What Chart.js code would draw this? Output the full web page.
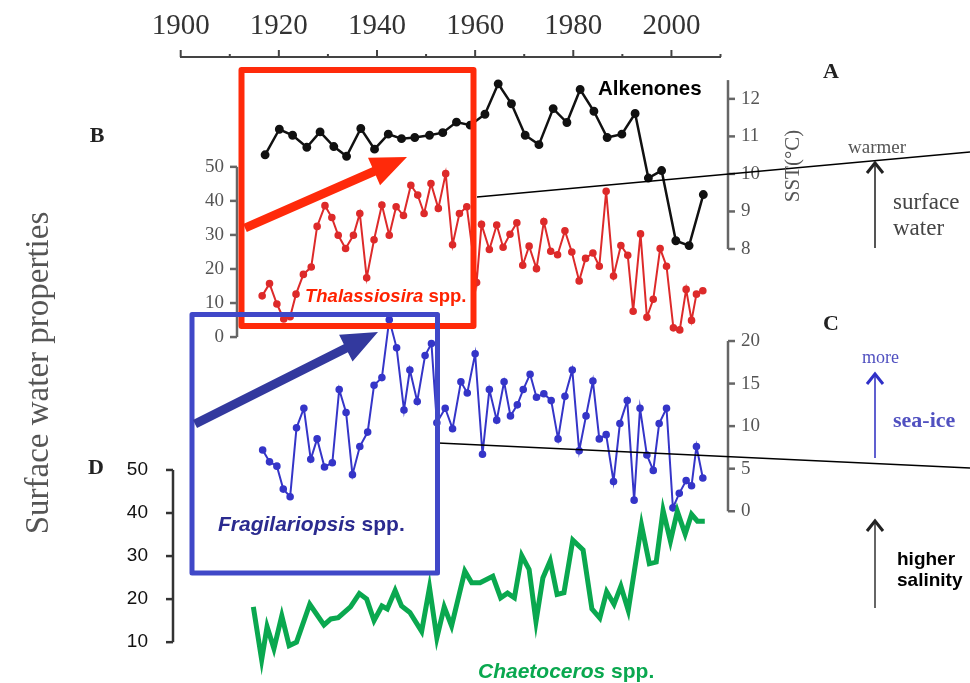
<!DOCTYPE html>
<html>
<head>
<meta charset="utf-8">
<script src="https://cdn.jsdelivr.net/npm/chart.js@4"></script>
<style>
  body { margin: 0; background: #fff; }
  canvas { display: block; }
</style>
</head>
<body>
<canvas id="chart" width="970" height="683"></canvas>
<script>
// values (year, value)
const alkYears = [1917.2, 1920.1, 1922.8, 1925.7, 1928.4, 1931.2, 1933.8, 1936.7, 1939.5, 1942.3, 1945.0, 1947.7, 1950.7, 1953.4, 1956.2, 1959.0, 1962.0, 1964.7, 1967.4, 1970.2, 1973.0, 1975.9, 1978.7, 1981.4, 1984.2, 1986.9, 1989.9, 1992.6, 1995.3, 1998.0, 2000.9, 2003.6, 2006.5];
const alkSST = [10.51, 11.19, 11.03, 10.71, 11.12, 10.73, 10.47, 11.21, 10.66, 11.06, 10.94, 10.97, 11.03, 11.10, 11.38, 11.30, 11.59, 12.40, 11.87, 11.03, 10.78, 11.74, 11.37, 12.25, 11.67, 10.97, 11.06, 11.61, 9.89, 10.09, 8.22, 8.09, 9.45];

const thalYears = [1916.6, 1918.1, 1919.6, 1921.0, 1922.3, 1923.5, 1925.0, 1926.6, 1927.8, 1929.4, 1930.8, 1932.1, 1933.6, 1935.2, 1936.5, 1937.9, 1939.4, 1941.0, 1942.5, 1943.9, 1945.4, 1946.9, 1948.3, 1949.6, 1951.0, 1952.5, 1954.0, 1955.4, 1956.8, 1958.3, 1960.3, 1961.3, 1962.9, 1964.4, 1965.7, 1967.1, 1968.5, 1969.7, 1971.0, 1972.5, 1974.0, 1975.4, 1976.8, 1978.3, 1979.7, 1981.2, 1982.5, 1984.0, 1985.3, 1986.7, 1988.2, 1989.7, 1991.1, 1992.2, 1993.7, 1995.0, 1996.3, 1997.7, 1999.0, 2000.4, 2001.7, 2003.0, 2004.1, 2005.1, 2006.4];
const thalPct = [12.1, 15.7, 9.7, 5.3, 6.0, 12.6, 18.4, 20.6, 32.5, 38.6, 35.1, 29.9, 26.0, 29.9, 36.3, 17.4, 28.6, 38.8, 29.9, 38.3, 35.7, 44.6, 41.7, 36.3, 45.1, 37.8, 48.0, 27.1, 36.3, 38.3, 16.0, 33.1, 25.7, 32.9, 26.4, 30.2, 33.6, 21.1, 26.7, 20.1, 33.9, 25.2, 24.2, 31.2, 25.0, 16.5, 23.1, 24.7, 20.8, 42.8, 17.9, 26.9, 24.0, 7.6, 30.3, 5.8, 11.1, 26.0, 20.8, 2.7, 2.1, 14.0, 4.9, 12.6, 13.6];

const fragYears = [1916.7, 1918.1, 1919.6, 1920.9, 1922.3, 1923.6, 1925.1, 1926.5, 1927.8, 1929.3, 1930.9, 1932.3, 1933.7, 1935.0, 1936.5, 1938.1, 1939.4, 1941.0, 1942.5, 1944.0, 1945.5, 1946.7, 1948.2, 1949.8, 1951.1, 1952.2, 1953.9, 1955.4, 1957.1, 1958.4, 1960.0, 1961.5, 1962.9, 1964.4, 1965.9, 1967.2, 1968.6, 1969.8, 1971.2, 1972.5, 1974.0, 1975.5, 1976.9, 1978.3, 1979.8, 1981.2, 1982.6, 1984.0, 1985.3, 1986.7, 1988.2, 1989.5, 1991.0, 1992.4, 1993.6, 1995.0, 1996.3, 1997.5, 1999.0, 2000.3, 2001.6, 2003.0, 2004.1, 2005.1, 2006.4];
const fragPct = [7.2, 5.8, 5.3, 2.6, 1.7, 9.8, 12.1, 6.1, 8.5, 5.2, 5.7, 14.3, 11.6, 4.3, 7.6, 9.3, 14.8, 15.7, 22.5, 19.2, 11.9, 16.6, 12.9, 18.3, 19.7, 10.4, 12.1, 9.7, 15.2, 13.9, 18.5, 6.7, 14.3, 10.7, 15.2, 11.2, 12.5, 14.3, 16.1, 13.4, 13.8, 13.0, 8.5, 13.5, 16.6, 7.1, 11.2, 15.3, 8.5, 9.0, 3.5, 10.3, 13.0, 1.3, 12.1, 6.6, 4.8, 10.3, 12.1, 0.4, 2.1, 3.6, 3.0, 7.6, 3.9];

const chaeYears = [1914.8, 1916.5, 1917.6, 1919.0, 1920.6, 1922.1, 1923.6, 1926.3, 1929.2, 1930.6, 1932.1, 1934.6, 1936.4, 1937.9, 1939.4, 1941.0, 1942.1, 1943.7, 1945.0, 1946.7, 1949.1, 1950.7, 1952.2, 1953.7, 1955.2, 1957.9, 1959.3, 1961.0, 1963.6, 1965.2, 1966.6, 1968.0, 1969.5, 1971.0, 1972.4, 1973.8, 1975.3, 1976.7, 1978.1, 1979.9, 1982.0, 1983.8, 1985.4, 1986.8, 1988.3, 1989.7, 1991.2, 1993.9, 1995.5, 1996.9, 1998.3, 1999.8, 2001.2, 2002.8, 2004.1, 2005.3, 2006.8];
const chaePct = [18.2, 5.9, 13.6, 8.5, 16.1, 9.2, 10.0, 18.8, 14.0, 15.4, 15.7, 18.2, 21.3, 20.0, 15.0, 18.4, 17.7, 22.0, 18.4, 16.9, 12.5, 22.7, 11.0, 18.2, 13.8, 26.5, 23.8, 23.8, 25.3, 20.3, 21.4, 20.3, 30.1, 26.9, 14.8, 24.9, 28.9, 21.1, 21.5, 33.7, 31.4, 17.7, 15.6, 21.7, 18.8, 23.0, 17.4, 37.2, 28.2, 28.6, 40.6, 33.5, 40.4, 35.1, 39.7, 38.1, 38.1];

// tick labels of the panel axes
const sstTicks = [8, 9, 10, 11, 12];
const thalTicks = [0, 10, 20, 30, 40, 50];
const fragTicks = [0, 5, 10, 15, 20];
const chaeTicks = [10, 20, 30, 40, 50];

// layout: chart area spans y 57..683, each panel axis is placed by two anchors
const AREA_TOP = 57, AREA_BOTTOM = 683;
function range(vTop, pTop, vBot, pBot) {
  const ppv = (pBot - pTop) / (vTop - vBot);
  return { min: vBot - (AREA_BOTTOM - pBot) / ppv, max: vTop + (pTop - AREA_TOP) / ppv };
}
const rSST = range(12, 99.3, 8, 251);
const rThal = range(50, 168, 0, 340);
const rFrag = range(20, 344, 0, 516);
const rChae = range(50, 474.3, 10, 648.3);

const pts = (xs, ys) => xs.map((x, i) => ({ x: x, y: ys[i] }));

const SERIF = '"Liberation Serif", "DejaVu Serif", serif';
const SANS = '"Liberation Sans", Arial, sans-serif';

function blockArrow(ctx, x1, y1, x2, y2, shaft, headLen, headW, color) {
  const a = Math.atan2(y2 - y1, x2 - x1);
  const len = Math.hypot(x2 - x1, y2 - y1);
  ctx.save();
  ctx.translate(x1, y1);
  ctx.rotate(a);
  ctx.fillStyle = color;
  ctx.beginPath();
  ctx.moveTo(0, -shaft / 2);
  ctx.lineTo(len - headLen, -shaft / 2);
  ctx.lineTo(len - headLen, -headW / 2);
  ctx.lineTo(len, 0);
  ctx.lineTo(len - headLen, headW / 2);
  ctx.lineTo(len - headLen, shaft / 2);
  ctx.lineTo(0, shaft / 2);
  ctx.closePath();
  ctx.fill();
  ctx.restore();
}

function upArrow(ctx, x, yBot, yTop, color, shaftColor) {
  ctx.save();
  ctx.strokeStyle = shaftColor;
  ctx.lineWidth = 2;
  ctx.beginPath();
  ctx.moveTo(x, yBot);
  ctx.lineTo(x, yTop + 3);
  ctx.stroke();
  ctx.strokeStyle = color;
  ctx.lineWidth = 3;
  ctx.lineJoin = 'miter';
  ctx.beginPath();
  ctx.moveTo(x - 8, yTop + 11);
  ctx.lineTo(x, yTop + 1);
  ctx.lineTo(x + 8, yTop + 11);
  ctx.stroke();
  ctx.restore();
}

function text(ctx, str, x, y, font, color, align) {
  ctx.font = font;
  ctx.fillStyle = color;
  ctx.textAlign = align || 'left';
  ctx.textBaseline = 'middle';
  ctx.fillText(str, x, y);
}

// italic species name followed by upright " spp."
function species(ctx, name, x, y, size, color) {
  ctx.textBaseline = 'middle';
  ctx.textAlign = 'left';
  ctx.fillStyle = color;
  ctx.font = 'italic bold ' + size + 'px ' + SANS;
  ctx.fillText(name, x, y);
  const w = ctx.measureText(name).width;
  ctx.font = 'bold ' + size + 'px ' + SANS;
  ctx.fillText(' spp.', x + w, y);
}

function panelAxis(ctx, scale, ticks, x, side, lineTop, opts) {
  const yTop = scale.getPixelForValue(lineTop);
  const yBot = scale.getPixelForValue(ticks[0]);
  ctx.save();
  ctx.strokeStyle = opts.color;
  ctx.lineWidth = opts.width;
  ctx.beginPath();
  ctx.moveTo(x, yTop);
  ctx.lineTo(x, yBot);
  ctx.stroke();
  ticks.forEach(v => {
    const y = scale.getPixelForValue(v);
    ctx.beginPath();
    ctx.moveTo(x, y);
    ctx.lineTo(x + side * 7, y);
    ctx.stroke();
    text(ctx, String(v), x + side * opts.gap, y, opts.font, opts.labelColor, side > 0 ? 'left' : 'right');
  });
  ctx.restore();
}

const figure = {
  id: 'figure',
  afterDatasetsDraw(chart) {
    const ctx = chart.ctx;
    const s = chart.scales;

    // minor / major ticks of the top year axis
    ctx.save();
    ctx.strokeStyle = '#444';
    ctx.lineWidth = 2;
    for (let yr = 1900; yr <= 2010; yr += 10) {
      const px = s.x.getPixelForValue(yr);
      ctx.beginPath();
      ctx.moveTo(px, AREA_TOP);
      ctx.lineTo(px, AREA_TOP - (yr % 20 === 0 ? 7 : 3));
      ctx.stroke();
    }
    ctx.restore();

    // panel axes
    const serifAxis = { color: '#666', width: 2.5, gap: 13, font: '19px ' + SERIF, labelColor: '#555' };
    panelAxis(ctx, s.ySST, sstTicks, 728, 1, 12.5, serifAxis);
    panelAxis(ctx, s.yThal, thalTicks, 237, -1, 50, serifAxis);
    panelAxis(ctx, s.yFrag, fragTicks, 728, 1, 20, serifAxis);
    panelAxis(ctx, s.yChae, chaeTicks, 173, -1, 50,
      { color: '#333', width: 2.5, gap: 25, font: '19px ' + SANS, labelColor: '#111' });

    // thin connector lines
    ctx.save();
    ctx.strokeStyle = '#000';
    ctx.lineWidth = 1.5;
    ctx.beginPath();
    ctx.moveTo(477, 197);
    ctx.lineTo(970, 152);
    ctx.moveTo(438, 443);
    ctx.lineTo(970, 468);
    ctx.stroke();
    ctx.restore();

    // highlight boxes and arrows
    ctx.save();
    ctx.lineJoin = 'round';
    ctx.strokeStyle = '#ff2a0a';
    ctx.lineWidth = 6;
    ctx.strokeRect(241.5, 70, 232, 256);
    ctx.strokeStyle = '#4048c8';
    ctx.lineWidth = 5;
    ctx.strokeRect(192, 314.5, 245.5, 258.5);
    ctx.restore();
    blockArrow(ctx, 245, 228, 407, 157, 9, 36, 30, '#ff2a0a');
    blockArrow(ctx, 195, 424, 378, 332, 9, 36, 30, '#33399e');

    // labels
    text(ctx, 'Alkenones', 598, 89, 'bold 20.5px ' + SANS, '#000');
    species(ctx, 'Thalassiosira', 305, 297, 18.5, '#ff2200');
    species(ctx, 'Fragilariopsis', 218, 525, 21, '#2b2b8f');
    species(ctx, 'Chaetoceros', 478, 672, 21, '#0aa84f');

    text(ctx, 'A', 831, 72, 'bold 22px ' + SERIF, '#222', 'center');
    text(ctx, 'B', 97, 136, 'bold 22px ' + SERIF, '#222', 'center');
    text(ctx, 'C', 831, 324, 'bold 22px ' + SERIF, '#222', 'center');
    text(ctx, 'D', 96, 468, 'bold 22px ' + SERIF, '#222', 'center');

    ctx.save();
    ctx.translate(793, 166);
    ctx.rotate(-Math.PI / 2);
    text(ctx, 'SST(°C)', 0, 0, '21px ' + SERIF, '#555', 'center');
    ctx.restore();

    ctx.save();
    ctx.translate(39, 373);
    ctx.rotate(-Math.PI / 2);
    text(ctx, 'Surface water properties', 0, 0, '33px ' + SERIF, '#555', 'center');
    ctx.restore();

    // right-hand annotations
    text(ctx, 'warmer', 848, 148, '19px ' + SERIF, '#555');
    upArrow(ctx, 875, 248, 162, '#222', '#555');
    text(ctx, 'surface', 893, 203, '23px ' + SERIF, '#444');
    text(ctx, 'water', 893, 229, '23px ' + SERIF, '#444');

    text(ctx, 'more', 862, 358, '18px ' + SERIF, '#5050c0');
    upArrow(ctx, 875, 458, 373, '#3030c8', '#6060d0');
    text(ctx, 'sea-ice', 893, 421, 'bold 22px ' + SERIF, '#5050c0');

    upArrow(ctx, 875, 608, 520, '#222', '#666');
    text(ctx, 'higher', 897, 560, 'bold 19px ' + SANS, '#000');
    text(ctx, 'salinity', 897, 581, 'bold 19px ' + SANS, '#000');
  }
};

new Chart(document.getElementById('chart'), {
  type: 'line',
  data: {
    datasets: [
      { label: 'Chaetoceros spp.', data: pts(chaeYears, chaePct), yAxisID: 'yChae',
        borderColor: '#0aa84f', borderWidth: 5, pointRadius: 0, borderJoinStyle: 'miter' },
      { label: 'Fragilariopsis spp.', data: pts(fragYears, fragPct), yAxisID: 'yFrag',
        borderColor: '#3535c8', backgroundColor: '#3535c8', borderWidth: 2, pointRadius: 2.8 },
      { label: 'Thalassiosira spp.', data: pts(thalYears, thalPct), yAxisID: 'yThal',
        borderColor: '#dd2a2a', backgroundColor: '#dd2a2a', borderWidth: 2, pointRadius: 2.8 },
      { label: 'Alkenones', data: pts(alkYears, alkSST), yAxisID: 'ySST',
        borderColor: '#111', backgroundColor: '#111', borderWidth: 2.5, pointRadius: 3.2 }
    ]
  },
  options: {
    responsive: false,
    animation: false,
    devicePixelRatio: 1,
    layout: { padding: { left: 180.7, right: 249.5, top: 0, bottom: 0 } },
    elements: { line: { tension: 0, fill: false }, point: { borderWidth: 0 } },
    plugins: { legend: { display: false }, tooltip: { enabled: false } },
    scales: {
      x: {
        type: 'linear',
        position: 'top',
        min: 1900,
        max: 2010,
        afterFit: (scale) => { scale.height = AREA_TOP; },
        grid: { drawOnChartArea: false, drawTicks: false },
        border: { display: true, color: '#444', width: 2 },
        ticks: {
          stepSize: 10,
          autoSkip: false,
          maxRotation: 0,
          padding: 13,
          color: '#333',
          font: { family: SERIF, size: 29 },
          callback: (v) => (v % 20 === 0 ? String(v) : '')
        }
      },
      ySST: { type: 'linear', display: false, min: rSST.min, max: rSST.max },
      yThal: { type: 'linear', display: false, min: rThal.min, max: rThal.max },
      yFrag: { type: 'linear', display: false, min: rFrag.min, max: rFrag.max },
      yChae: { type: 'linear', display: false, min: rChae.min, max: rChae.max }
    }
  },
  plugins: [figure]
});
</script>
</body>
</html>
